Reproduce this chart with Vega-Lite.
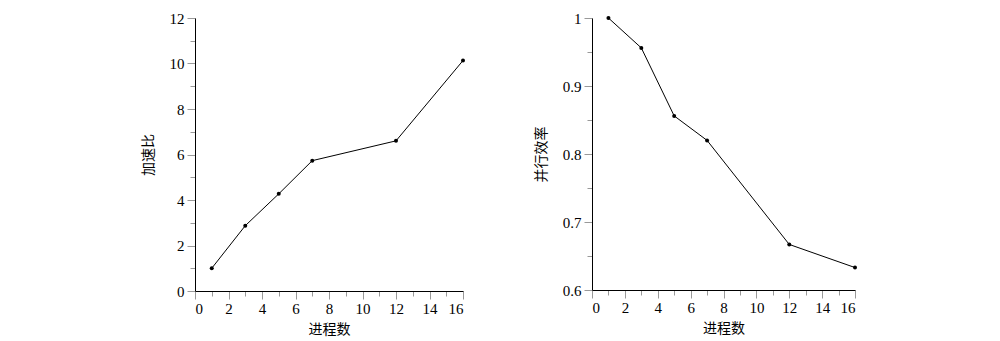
{
  "$schema": "https://vega.github.io/schema/vega-lite/v6.json",
  "padding": {"left": 141, "top": 11, "right": 5, "bottom": 5},
  "spacing": 69,
  "background": "white",
  "datasets": {
    "speedup": [
      {"p": 1, "v": 1.0},
      {"p": 3, "v": 2.87},
      {"p": 5, "v": 4.27},
      {"p": 7, "v": 5.73},
      {"p": 12, "v": 6.6},
      {"p": 16, "v": 10.13}
    ],
    "eff": [
      {"p": 1, "v": 1.0},
      {"p": 3, "v": 0.956},
      {"p": 5, "v": 0.856},
      {"p": 7, "v": 0.82},
      {"p": 12, "v": 0.667},
      {"p": 16, "v": 0.633}
    ]
  },
  "config": {
    "view": {"stroke": null},
    "axis": {
      "grid": false,
      "domainColor": "black",
      "domainWidth": 1,
      "tickColor": "#999999",
      "tickWidth": 1,
      "labelFont": "Times New Roman, Liberation Serif, serif",
      "labelFontSize": 15,
      "labelColor": "black",
      "titleFont": "Noto Sans CJK SC",
      "titleFontSize": 14,
      "titleFontWeight": "normal",
      "titleColor": "black"
    }
  },
  "hconcat": [
    {
      "width": 268,
      "height": 273,
      "data": {"name": "speedup"},
      "layer": [
        {"mark": {"type": "line", "color": "black", "strokeWidth": 1}},
        {"mark": {"type": "point", "filled": true, "color": "black", "size": 16, "opacity": 1}}
      ],
      "encoding": {
        "x": {
          "field": "p", "type": "quantitative",
          "scale": {"domain": [0, 16], "nice": false},
          "axis": {
            "title": "进程数",
            "values": [0,1,2,3,4,5,6,7,8,9,10,11,12,13,14,15,16],
            "labelExpr": "datum.value % 2 == 0 ? datum.label : ''",
            "tickSize": {"condition": {"test": "datum.value % 2 == 0", "value": 8}, "value": 5},
            "labelPadding": 2,
            "titlePadding": 6
          }
        },
        "y": {
          "field": "v", "type": "quantitative",
          "scale": {"domain": [0, 12], "nice": false},
          "axis": {
            "title": "加速比",
            "values": [0,1,2,3,4,5,6,7,8,9,10,11,12],
            "labelExpr": "datum.value % 2 == 0 ? datum.label : ''",
            "tickSize": {"condition": {"test": "datum.value % 2 == 0", "value": 8}, "value": 5},
            "labelPadding": 3,
            "titlePadding": 14
          }
        }
      }
    },
    {
      "width": 263,
      "height": 272,
      "data": {"name": "eff"},
      "layer": [
        {"mark": {"type": "line", "color": "black", "strokeWidth": 1}},
        {"mark": {"type": "point", "filled": true, "color": "black", "size": 16, "opacity": 1}}
      ],
      "encoding": {
        "x": {
          "field": "p", "type": "quantitative",
          "scale": {"domain": [0, 16], "nice": false},
          "axis": {
            "title": "进程数",
            "values": [0,1,2,3,4,5,6,7,8,9,10,11,12,13,14,15,16],
            "labelExpr": "datum.value % 2 == 0 ? datum.label : ''",
            "tickSize": {"condition": {"test": "datum.value % 2 == 0", "value": 8}, "value": 5},
            "labelPadding": 2,
            "titlePadding": 6
          }
        },
        "y": {
          "field": "v", "type": "quantitative",
          "scale": {"domain": [0.6, 1], "nice": false},
          "axis": {
            "title": "并行效率",
            "values": [0.6, 0.65, 0.7, 0.75, 0.8, 0.85, 0.9, 0.95, 1],
            "labelExpr": "abs(datum.value * 10 - round(datum.value * 10)) < 0.001 ? format(datum.value, '~g') : ''",
            "tickSize": {"condition": {"test": "abs(datum.value * 10 - round(datum.value * 10)) < 0.001", "value": 8}, "value": 5},
            "labelPadding": 3,
            "titlePadding": 14
          }
        }
      }
    }
  ]
}
